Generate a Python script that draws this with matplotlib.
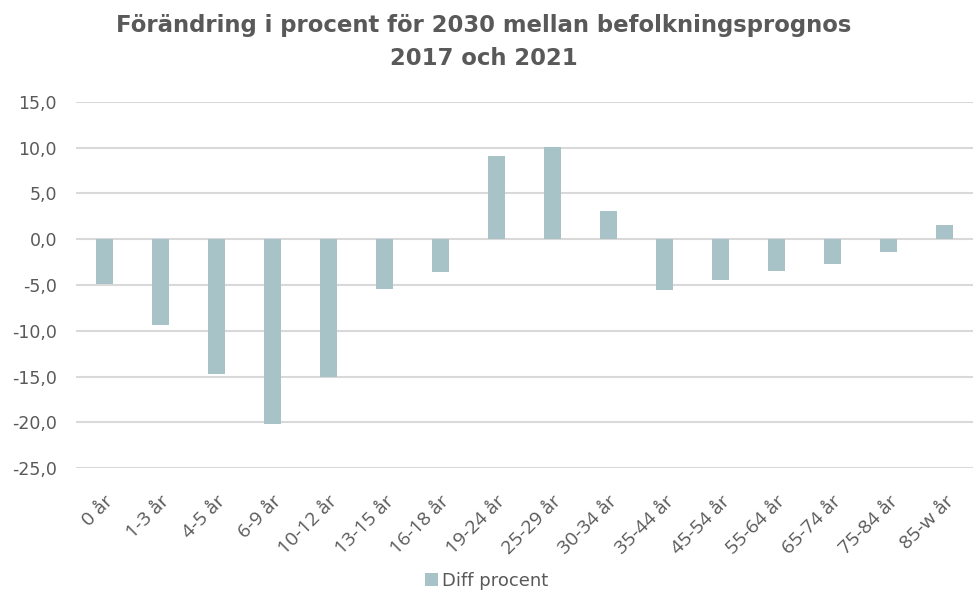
import matplotlib
matplotlib.use("Agg")
import matplotlib.pyplot as plt
import numpy as np

categories = ["0 år", "1-3 år", "4-5 år", "6-9 år", "10-12 år", "13-15 år", "16-18 år",
              "19-24 år", "25-29 år", "30-34 år", "35-44 år", "45-54 år", "55-64 år",
              "65-74 år", "75-84 år", "85-w år"]
diff_procent = [-4.9, -9.4, -14.7, -20.2, -15.0, -5.4, -3.6, 9.1, 10.1, 3.1,
                -5.5, -4.4, -3.5, -2.7, -1.4, 1.6]
yticks = [-25, -20, -15, -10, -5, 0, 5, 10, 15]
title = "Förändring i procent för 2030 mellan befolkningsprognos\n2017 och 2021"
series_name = "Diff procent"

bar_color = "#A7C3C8"
text_color = "#595959"
grid_color = "#D9D9D9"

fig = plt.figure(figsize=(9.74, 5.94), dpi=100)
ax = fig.add_axes([0.0785, 0.2116, 0.92, 0.6172])

x = np.arange(len(categories))
ax.bar(x, diff_procent, width=0.31, color=bar_color, label=series_name, zorder=3)

ax.set_xlim(-0.5, len(categories) - 0.5)
ax.set_ylim(-25, 15)
ax.set_yticks(yticks)
ax.set_yticklabels([f"{v:.1f}".replace(".", ",") for v in yticks],
                   fontsize=12.5, color=text_color, family="DejaVu Sans")
ax.yaxis.grid(True, color=grid_color, linewidth=1.5, zorder=0)
ax.set_axisbelow(True)
ax.tick_params(axis="y", length=0, pad=14)
ax.tick_params(axis="x", length=0, pad=17)
for s in ax.spines.values():
    s.set_visible(False)

ax.set_xticks(x)
ax.set_xticklabels(categories, rotation=45, ha="right", rotation_mode="anchor",
                   fontsize=14, color=text_color, family="Open Sans")

fig.text(0.497, 1 - 42 / 594, title, ha="center", va="center", fontsize=16.4,
         fontweight="bold", color=text_color, family="DejaVu Sans", linespacing=1.55)

fig.legend(loc="lower center", bbox_to_anchor=(0.5, -0.02), frameon=False,
           fontsize=13, labelcolor=text_color, handlelength=0.7, handleheight=0.7,
           handletextpad=0.25)

fig.savefig("out.png", dpi=100)
